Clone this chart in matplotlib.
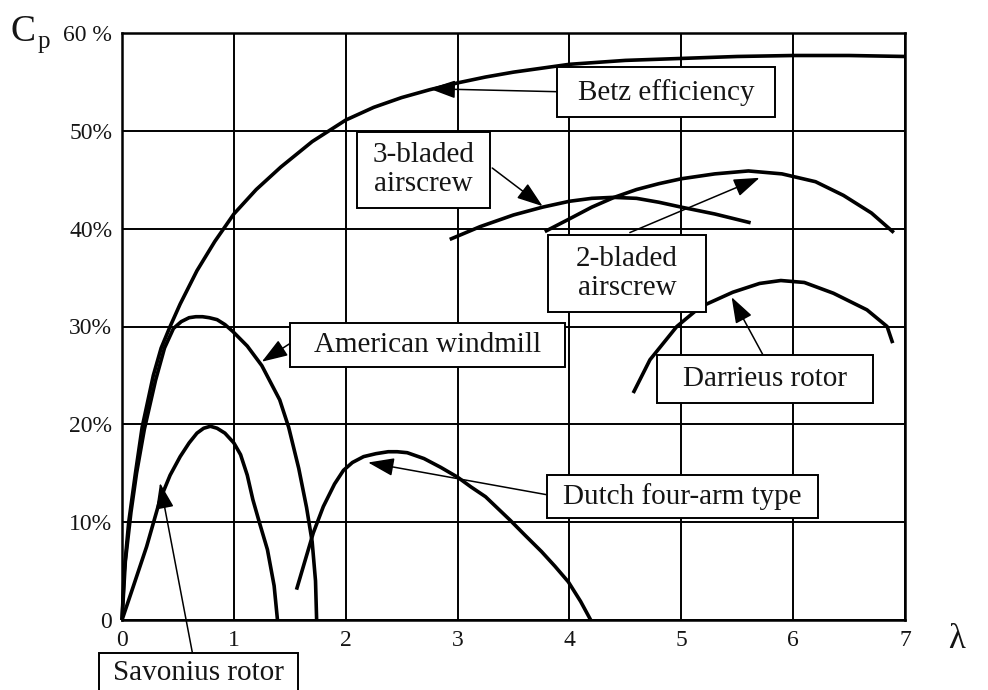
import matplotlib
matplotlib.use("Agg")
import matplotlib.pyplot as plt
from matplotlib.patches import Rectangle

# tip speed ratio (lambda) and power coefficient Cp [%]
betz_x = [0, 0.02, 0.06, 0.12, 0.18, 0.28, 0.35, 0.43, 0.52, 0.67, 0.83, 1.0, 1.2, 1.42,
          1.7, 2.0, 2.25, 2.5, 2.75, 3.0, 3.25, 3.5, 3.75, 4.0, 4.5, 5.0, 5.5, 6.0, 6.5, 7.0]
betz_y = [0, 5, 10, 15, 19.7, 25, 27.8, 30, 32.3, 35.7, 38.7, 41.5, 44, 46.3,
          48.9, 51.1, 52.4, 53.4, 54.2, 54.9, 55.5, 56.0, 56.4, 56.8, 57.2, 57.4, 57.6, 57.7, 57.7, 57.6]

american_x = [0, 0.03, 0.08, 0.13, 0.2, 0.3, 0.38, 0.46, 0.53, 0.6, 0.66, 0.72, 0.78, 0.85,
              0.92, 0.99, 1.12, 1.25, 1.41, 1.49, 1.58, 1.65, 1.7, 1.73, 1.74]
american_y = [0, 6, 11, 15, 19.5, 24.5, 27.8, 29.8, 30.5, 30.9, 31.0, 31.0, 30.9, 30.7,
              30.2, 29.5, 28, 26, 22.5, 19.7, 15.5, 11.5, 8, 4, 0]

savonius_x = [0, 0.1, 0.22, 0.34, 0.43, 0.52, 0.6, 0.67, 0.73, 0.79, 0.85, 0.92, 1.0, 1.06,
              1.12, 1.17, 1.23, 1.3, 1.36, 1.39]
savonius_y = [0, 3.4, 7.5, 12.3, 14.8, 16.7, 18.1, 19.1, 19.6, 19.8, 19.6, 19.1, 18.1, 16.9,
              14.8, 12.3, 9.9, 7.2, 3.5, 0]

dutch_x = [1.56, 1.64, 1.71, 1.8, 1.9, 1.98, 2.06, 2.16, 2.27, 2.38, 2.46, 2.55, 2.7, 2.85,
           3.0, 3.12, 3.25, 3.47, 3.6, 3.75, 3.87, 3.99, 4.1, 4.19]
dutch_y = [3.1, 6.2, 8.9, 11.6, 13.9, 15.3, 16.1, 16.7, 17.0, 17.2, 17.2, 17.1, 16.5, 15.6,
           14.6, 13.6, 12.6, 10.2, 8.7, 7.0, 5.5, 3.9, 1.9, 0]

blade3_x = [2.93, 3.2, 3.5, 3.76, 4.0, 4.2, 4.39, 4.6, 4.8, 5.0, 5.3, 5.62]
blade3_y = [38.9, 40.2, 41.4, 42.2, 42.8, 43.1, 43.2, 43.1, 42.7, 42.2, 41.5, 40.6]

blade2_x = [3.78, 4.0, 4.2, 4.4, 4.6, 4.8, 5.0, 5.3, 5.6, 5.9, 6.2, 6.45, 6.7, 6.9]
blade2_y = [39.7, 41.0, 42.2, 43.2, 44.0, 44.6, 45.1, 45.6, 45.9, 45.6, 44.8, 43.4, 41.6, 39.6]

darrieus_x = [4.57, 4.72, 4.96, 5.17, 5.46, 5.7, 5.89, 6.1, 6.36, 6.66, 6.84, 6.89]
darrieus_y = [23.2, 26.6, 30.0, 32.0, 33.5, 34.4, 34.7, 34.5, 33.4, 31.7, 30.0, 28.3]

x_ticks = [0, 1, 2, 3, 4, 5, 6, 7]
y_ticks = [0, 10, 20, 30, 40, 50, 60]
y_tick_labels = ["0", "10%", "20%", "30%", "40%", "50%", "60 %"]

plt.rcParams['font.family'] = ['Liberation Serif', 'DejaVu Serif']
ink = "#151515"

fig = plt.figure(figsize=(9.88, 6.9), dpi=100)
ax = fig.add_axes([122 / 988, 1 - 620 / 690, (905 - 122) / 988, (620 - 33) / 690])
ax.set_xlim(0, 7)
ax.set_ylim(0, 60)

ax.set_xticks(x_ticks)
ax.set_xticklabels([str(v) for v in x_ticks], fontsize=17, color=ink)
ax.set_yticks(y_ticks)
ax.set_yticklabels(y_tick_labels, fontsize=17, color=ink)
ax.tick_params(length=0, pad=7)
ax.grid(True, color="black", lw=1.4)
for s in ax.spines.values():
    s.set_linewidth(1.8)

lw = 2.6
for xs, ys in [(betz_x, betz_y), (american_x, american_y), (savonius_x, savonius_y),
               (dutch_x, dutch_y), (blade3_x, blade3_y), (blade2_x, blade2_y),
               (darrieus_x, darrieus_y)]:
    ax.plot(xs, ys, color="black", lw=lw, solid_capstyle="butt",
            solid_joinstyle="round", clip_on=False)


# annotation boxes (data coords): x0, x1, y0, y1, label
def box(x0, x1, y0, y1, label):
    ax.add_patch(Rectangle((x0, y0), x1 - x0, y1 - y0, facecolor="white",
                           edgecolor="black", lw=1.4, clip_on=False, zorder=5))
    ax.text((x0 + x1) / 2, (y0 + y1) / 2, label, ha="center", va="center",
            fontsize=21, color=ink, linespacing=1.15, zorder=6, clip_on=False)


def arrow(start, tip):
    ax.annotate("", xy=tip, xytext=start, annotation_clip=False,
                arrowprops=dict(arrowstyle="-|>,head_length=0.8,head_width=0.28",
                                mutation_scale=20, lw=1.1, color="black",
                                shrinkA=0, shrinkB=0), zorder=4)


arrow((3.89, 54.0), (2.75, 54.3))
box(3.89, 5.84, 51.4, 56.5, "Betz efficiency")

arrow((3.31, 46.2), (3.76, 42.3))
box(2.10, 3.29, 42.1, 49.9, "3-bladed\nairscrew")

arrow((4.54, 39.6), (5.70, 45.2))
box(3.81, 5.22, 31.5, 39.4, "2-bladed\nairscrew")

arrow((1.52, 28.4), (1.25, 26.4))
box(1.50, 3.96, 25.9, 30.4, "American windmill")

arrow((5.73, 27.1), (5.45, 33.0))
box(4.78, 6.71, 22.2, 27.1, "Darrieus rotor")

arrow((3.80, 12.8), (2.20, 16.1))
box(3.80, 6.22, 10.4, 14.8, "Dutch four-arm type")

arrow((0.63, -3.4), (0.34, 14.0))
ax.add_patch(Rectangle((-0.21, -8.5), 1.78, 5.1, facecolor="white",
                       edgecolor="black", lw=1.4, clip_on=False, zorder=5))
ax.text(0.68, -5.4, "Savonius rotor", ha="center", va="center",
        fontsize=21, color=ink, zorder=6, clip_on=False)

fig.text(10 / 988, 1 - 32 / 690, "C", fontsize=27, ha="left", va="center", color=ink)
fig.text(38 / 988, 1 - 42 / 690, "p", fontsize=18, ha="left", va="center", color=ink)
fig.text(957 / 988, 1 - 640 / 690, "λ", fontsize=25, ha="center", va="center", color=ink)

fig.savefig("out.png", dpi=100, facecolor="white")
